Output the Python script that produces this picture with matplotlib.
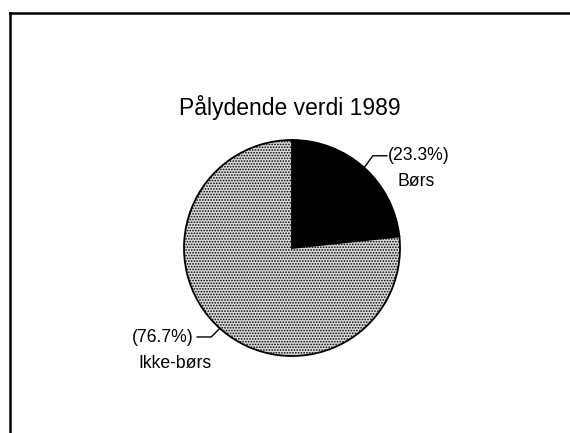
import numpy as np
import matplotlib.pyplot as plt
from matplotlib.lines import Line2D

plt.rcParams['font.family'] = ['Liberation Sans', 'DejaVu Sans']
plt.rcParams['hatch.linewidth'] = 0.8

# data
title = "Pålydende verdi 1989"
categories = ["Børs", "Ikke-børs"]
shares = [23.3, 76.7]
pct_labels = ["(23.3%)", "(76.7%)"]

W, H = 570, 433
fig = plt.figure(figsize=(W / 100, H / 100), dpi=100)

# frame: only top and left edges are drawn in the scan
fig.add_artist(Line2D([9.5 / W, 1.0], [1 - 12.5 / H, 1 - 12.5 / H],
                      color="black", lw=1.8, transform=fig.transFigure))
fig.add_artist(Line2D([9.5 / W, 9.5 / W], [1 - 12.5 / H, 0.0],
                      color="black", lw=1.8, transform=fig.transFigure))

fig.text(290 / W, 1 - 115 / H, title, ha="center", va="baseline",
         fontsize=16.5)

# pie centre (292, 248) px, radius 108 px
cx, cy, r = 292, 248, 108
ax = fig.add_axes([(cx - r) / W, (H - cy - r) / H, 2 * r / W, 2 * r / H])
wedges, _ = ax.pie(shares, startangle=90, counterclock=False,
                   colors=["black", "#dadada"],
                   wedgeprops=dict(edgecolor="black", linewidth=1.3))
wedges[1].set_hatch("......")
wedges[1].set_edgecolor("black")
ax.set_xlim(-1, 1)
ax.set_ylim(-1, 1)
ax.set_aspect("auto")
ax.axis("off")

# leader lines from the middle of each wedge
for i, w in enumerate(wedges):
    mid = np.deg2rad((w.theta1 + w.theta2) / 2)
    x0, y0 = np.cos(mid), np.sin(mid)
    side = 1 if x0 > 0 else -1
    x1, y1 = x0 + side * 0.08, y0 + (0.11 if y0 > 0 else -0.08)
    x2 = x1 + side * 0.13
    ax.plot([x0, x1, x2], [y0, y1, y1], color="black", lw=1.0,
            clip_on=False)

ax.text(0.885, 0.855, pct_labels[0], ha="left", va="center",
        fontsize=12.7, clip_on=False)
ax.text(1.148, 0.62, categories[0], ha="center", va="center",
        fontsize=12.7, clip_on=False)
ax.text(-0.915, -0.825, pct_labels[1], ha="right", va="center",
        fontsize=12.7, clip_on=False)
ax.text(-0.75, -1.065, categories[1], ha="right", va="center",
        fontsize=12.7, clip_on=False)

fig.savefig("out.png", dpi=100)
